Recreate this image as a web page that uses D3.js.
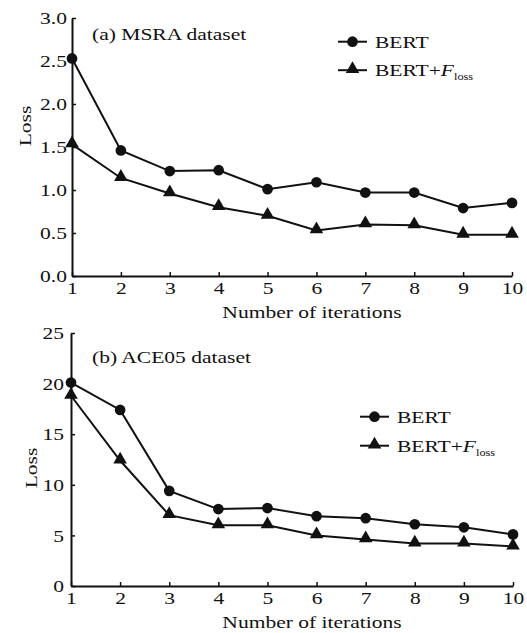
<!DOCTYPE html>
<html><head><meta charset="utf-8">
<script src="https://cdn.jsdelivr.net/npm/d3@7"></script>
<style>
html,body{margin:0;padding:0;background:#fff;}
text{font-family:"Liberation Serif","Times New Roman",serif;fill:#111;}
</style></head>
<body>
<svg id="chart" width="527" height="633"></svg>
<script>
const iterations = [1,2,3,4,5,6,7,8,9,10];
const msraBert  = [2.53,1.46,1.22,1.23,1.01,1.09,0.97,0.97,0.79,0.85];
const msraFloss = [1.53,1.14,0.96,0.80,0.70,0.53,0.60,0.59,0.48,0.48];
const aceBert   = [20.1,17.4,9.4,7.6,7.7,6.9,6.7,6.1,5.8,5.1];
const aceFloss  = [18.8,12.4,7.0,6.0,6.0,5.0,4.6,4.2,4.2,3.9];
const msraTicks = [0,0.5,1.0,1.5,2.0,2.5,3.0];
const aceTicks  = [0,5,10,15,20,25];
const seriesNames = ["BERT","BERT+"];

const SX = 1.23, FS = 17.5;
const svg = d3.select("#chart");
svg.append("rect").attr("width",527).attr("height",633).attr("fill","#fff");

function stretched(g, x, y, str, anchor, rot){
  const t = g.append("text")
    .attr("transform",`translate(${x},${y})${rot?` rotate(${rot})`:""} scale(${SX},1)`)
    .attr("font-size",FS).attr("text-anchor",anchor||"start");
  if(str!==null) t.text(str);
  return t;
}

function panel(cfg){
  const x = d3.scaleLinear().domain([1,10]).range([cfg.x0,cfg.x1]);
  const y = d3.scaleLinear().domain([0,cfg.ymax]).range([cfg.y0,cfg.y1]);
  const g = svg.append("g");

  const xa = g.append("g").attr("transform",`translate(0,${cfg.y0})`)
    .call(d3.axisBottom(x).tickValues(iterations).tickSizeInner(-4).tickSizeOuter(0).tickPadding(6).tickFormat(d3.format("d")));
  const ya = g.append("g").attr("transform",`translate(${cfg.x0},0)`)
    .call(d3.axisLeft(y).tickValues(cfg.ticks).tickSizeInner(-4).tickSizeOuter(0).tickPadding(cfg.ypad).tickFormat(cfg.fmt));
  [xa,ya].forEach(a=>{
    a.select(".domain").attr("stroke","#111").attr("stroke-width",2);
    a.selectAll(".tick line").attr("stroke","#111").attr("stroke-width",1.5);
    a.selectAll("text").attr("font-size",FS).attr("font-family","Liberation Serif").attr("fill","#111");
  });
  xa.selectAll("text").attr("transform",`scale(${SX},1)`);
  ya.selectAll("text").attr("x",-cfg.ypad/SX).attr("transform",`scale(${SX},1)`);

  const line = d3.line().x((d,i)=>x(iterations[i])).y(d=>y(d));
  [cfg.a,cfg.b].forEach((arr,k)=>{
    g.append("path").datum(arr).attr("d",line).attr("fill","none").attr("stroke","#111").attr("stroke-width",2);
    const sym = d3.symbol().type(k===0?d3.symbolCircle:d3.symbolTriangle).size(k===0?90:80);
    g.selectAll(null).data(arr).join("path")
      .attr("transform",(d,i)=>`translate(${x(iterations[i])},${y(d)+(k===1?-1:0)})`)
      .attr("d",sym).attr("fill","#111");
  });

  stretched(g, cfg.titleX, cfg.titleY, cfg.title, "start");
  stretched(g, cfg.xlabX, cfg.xlabY, "Number of iterations", "middle");
  stretched(g, cfg.ylabX, cfg.ylabY, "Loss", "middle", -90);

  // legend
  [0,1].forEach(k=>{
    const ly = cfg.legY + k*cfg.legGap;
    g.append("line").attr("x1",cfg.legX).attr("x2",cfg.legX+29).attr("y1",ly).attr("y2",ly)
      .attr("stroke","#111").attr("stroke-width",2);
    const sym = d3.symbol().type(k===0?d3.symbolCircle:d3.symbolTriangle).size(k===0?90:80);
    g.append("path").attr("d",sym).attr("transform",`translate(${cfg.legX+14.5},${ly+(k===1?-1:0)})`).attr("fill","#111");
    const t = stretched(g, cfg.legX+37, ly+6, null, "start");
    t.append("tspan").text(seriesNames[k]);
    if(k===1){
      t.append("tspan").attr("font-style","italic").text("F");
      t.append("tspan").attr("font-size",10).attr("dy",4).text("loss");
    }
  });
}

panel({x0:72,x1:512,y0:276,y1:18,ymax:3,ticks:msraTicks,fmt:d3.format(".1f"),ypad:5,
  a:msraBert,b:msraFloss,title:"(a) MSRA dataset",titleX:92,titleY:39.5,
  xlabX:312,xlabY:318,ylabX:31,ylabY:126,legX:338,legY:41.7,legGap:28.5});
panel({x0:71,x1:513,y0:586,y1:333,ymax:25,ticks:aceTicks,fmt:d3.format("d"),ypad:7,
  a:aceBert,b:aceFloss,title:"(b) ACE05 dataset",titleX:92,titleY:363,
  xlabX:312,xlabY:628,ylabX:37,ylabY:468,legX:360,legY:416.7,legGap:29});
</script>
</body></html>
